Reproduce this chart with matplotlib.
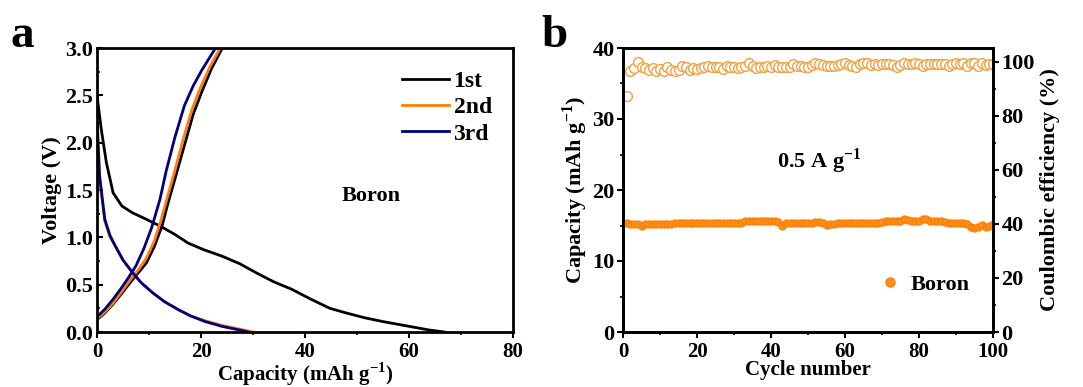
import numpy as np
import matplotlib.pyplot as plt
from matplotlib.ticker import MultipleLocator

plt.rcParams['font.family'] = ['Liberation Serif', 'DejaVu Serif']
plt.rcParams['font.weight'] = 'bold'
plt.rcParams['axes.labelweight'] = 'bold'
plt.rcParams['mathtext.fontset'] = 'custom'
plt.rcParams['mathtext.rm'] = 'Liberation Serif:bold'

# panel a: charge / discharge profiles
cap_1st_dis = [0, 0.8, 1.8, 3.1, 4.8, 6.8, 9.5, 12.1, 15, 17.5, 20.5, 24.1, 27.5, 30.8, 34, 37.5, 41, 44.8, 48, 51.5, 55, 60, 64, 66.8]
v_1st_dis = [2.5, 2.15, 1.79, 1.47, 1.33, 1.26, 1.19, 1.12, 1.03, 0.94, 0.87, 0.80, 0.72, 0.62, 0.53, 0.45, 0.35, 0.25, 0.20, 0.15, 0.11, 0.06, 0.02, 0.0]
cap_1st_chg = [0, 1.5, 3, 4.8, 6.5, 8, 9.5, 11, 12.5, 13.5, 15, 16.8, 18.5, 20.1, 22, 24.1]
v_1st_chg = [0.13, 0.2, 0.29, 0.41, 0.53, 0.63, 0.73, 0.9, 1.12, 1.33, 1.62, 1.97, 2.3, 2.53, 2.78, 3.0]

cap_2nd_dis = [0, 0.5, 1.5, 2.5, 3.5, 5, 6.8, 8.5, 10.8, 13, 15.5, 18, 20.8, 24, 27.5, 30.1]
v_2nd_dis = [2.05, 1.6, 1.17, 1.0, 0.91, 0.76, 0.63, 0.52, 0.41, 0.32, 0.24, 0.17, 0.12, 0.07, 0.03, 0.0]
cap_2nd_chg = [0, 1.5, 3, 4.8, 6.5, 8, 9.5, 11, 12.3, 13.3, 14.8, 16.5, 18.2, 19.8, 21.7, 23.7]
v_2nd_chg = [0.14, 0.21, 0.3, 0.43, 0.56, 0.66, 0.78, 0.96, 1.18, 1.38, 1.67, 2.02, 2.34, 2.57, 2.8, 3.0]

cap_3rd_dis = [0, 0.5, 1.5, 2.5, 3.5, 5, 6.8, 8.5, 10.8, 13, 15.5, 18, 20.8, 24, 27.5, 29.1]
v_3rd_dis = [2.28, 1.65, 1.19, 1.02, 0.91, 0.76, 0.63, 0.52, 0.41, 0.32, 0.24, 0.17, 0.11, 0.06, 0.02, 0.0]
cap_3rd_chg = [0, 1.5, 3, 4.5, 6, 7.5, 9, 10.5, 12.1, 13.3, 15, 16.8, 18.5, 20.2, 22.8]
v_3rd_chg = [0.16, 0.24, 0.34, 0.45, 0.57, 0.7, 0.88, 1.1, 1.4, 1.7, 2.06, 2.39, 2.6, 2.77, 3.0]

# panel b: cycling
cycles = np.arange(1, 101)
capacity = [15.3, 15.2, 15.2, 15.2, 15.0, 15.2, 15.2, 15.2, 15.2, 15.2,
            15.2, 15.2, 15.2, 15.3, 15.3, 15.3, 15.3, 15.4, 15.3, 15.3,
            15.3, 15.3, 15.3, 15.3, 15.4, 15.4, 15.4, 15.4, 15.4, 15.4,
            15.4, 15.4, 15.6, 15.6, 15.6, 15.6, 15.6, 15.6, 15.7, 15.7,
            15.6, 15.5, 14.9, 15.3, 15.3, 15.3, 15.3, 15.3, 15.3, 15.4,
            15.4, 15.5, 15.5, 15.3, 15.1, 15.2, 15.2, 15.3, 15.3, 15.3,
            15.3, 15.3, 15.3, 15.4, 15.4, 15.4, 15.4, 15.4, 15.4, 15.5,
            15.6, 15.6, 15.6, 15.6, 15.7, 15.9, 15.8, 15.7, 15.7, 15.7,
            15.9, 15.9, 15.7, 15.6, 15.6, 15.6, 15.5, 15.3, 15.3, 15.4,
            15.4, 15.3, 15.2, 14.8, 14.7, 14.8, 15.1, 14.8, 15.0, 15.2]
efficiency = [87.2, 96.5, 97.6, 99.9, 98.0, 97.5, 97.0, 97.6, 96.5, 97.4,
              96.5, 97.9, 97.0, 96.6, 97.0, 98.5, 98.0, 96.8, 97.5, 97.4,
              97.5, 98.0, 98.2, 98.0, 98.0, 97.9, 97.3, 98.3, 97.8, 97.8,
              97.6, 97.9, 98.5, 99.5, 98.2, 97.6, 97.8, 98.0, 98.2, 98.0,
              98.6, 98.0, 97.8, 98.0, 98.0, 98.9, 98.2, 98.3, 97.8, 98.0,
              98.8, 99.3, 99.0, 98.7, 98.2, 98.4, 98.2, 98.8, 99.2, 99.4,
              98.6, 98.2, 97.9, 99.0, 99.3, 99.4, 98.8, 98.9, 98.8, 99.2,
              98.9, 99.2, 98.7, 98.0, 98.8, 99.3, 99.2, 99.0, 99.3, 99.1,
              98.2, 99.2, 99.1, 99.2, 99.2, 99.1, 99.2, 98.2, 99.0, 99.3,
              99.0, 99.3, 98.5, 99.6, 99.4, 98.2, 99.3, 98.7, 99.2, 99.0]

black = '#000000'
orange = '#FF7F00'
navy = '#00007F'

fig = plt.figure(figsize=(10.83, 3.87), dpi=100)

# ---------- panel a ----------
ax1 = fig.add_axes([97 / 1083, 1 - 332 / 387, 416 / 1083, 284 / 387])
ax1.plot(cap_1st_dis, v_1st_dis, color=black, lw=2)
ax1.plot(cap_1st_chg, v_1st_chg, color=black, lw=2, label='1st')
ax1.plot(cap_2nd_dis, v_2nd_dis, color=orange, lw=2)
ax1.plot(cap_2nd_chg, v_2nd_chg, color=orange, lw=2, label='2nd')
ax1.plot(cap_3rd_dis, v_3rd_dis, color=navy, lw=2)
ax1.plot(cap_3rd_chg, v_3rd_chg, color=navy, lw=2, label='3rd')
ax1.set_xlim(0, 80)
ax1.set_ylim(0, 3.0)
ax1.xaxis.set_major_locator(MultipleLocator(20))
ax1.xaxis.set_minor_locator(MultipleLocator(10))
ax1.yaxis.set_major_locator(MultipleLocator(0.5))
ax1.yaxis.set_minor_locator(MultipleLocator(0.25))
ax1.yaxis.set_major_formatter(plt.FormatStrFormatter('%.1f'))
ax1.tick_params(axis='y', which='both', direction='in')
ax1.tick_params(axis='x', which='both', direction='out')
ax1.tick_params(which='major', length=4, width=1.5, labelsize=16)
ax1.tick_params(axis='x', pad=3, labelsize=15)
ax1.tick_params(axis='y', pad=3)
ax1.tick_params(which='minor', length=2, width=1.2)
ax1.set_xlabel('Capacity (mAh g$^{-1}$)', fontsize=15, labelpad=-1)
ax1.set_ylabel('Voltage (V)', fontsize=16, labelpad=2)
for s in ax1.spines.values():
    s.set_linewidth(2)
ax1.legend(loc='upper right', bbox_to_anchor=(1.0, 0.995), frameon=False, fontsize=17,
           handlelength=2.0, handletextpad=0.2, labelspacing=0.2)
ax1.text(0.66, 0.48, 'Boron', transform=ax1.transAxes, fontsize=16, ha='center', va='center')
fig.text(10 / 1083, 1 - 36 / 387, 'a', fontsize=34, fontweight='bold', va='center')

# ---------- panel b ----------
ax2 = fig.add_axes([623 / 1083, 1 - 332 / 387, 370 / 1083, 284 / 387])
ax2.plot(cycles, capacity, 'o', ms=5, mfc='#FF9020', mec=orange, mew=1, label='Boron')
ax2.set_xlim(0, 100)
ax2.set_ylim(0, 40)
ax2.xaxis.set_major_locator(MultipleLocator(20))
ax2.xaxis.set_minor_locator(MultipleLocator(10))
ax2.yaxis.set_major_locator(MultipleLocator(10))
ax2.yaxis.set_minor_locator(MultipleLocator(5))
ax2.tick_params(which='both', direction='out')
ax2.tick_params(which='major', length=4, width=1.5, labelsize=16)
ax2.tick_params(axis='x', pad=3, labelsize=15)
ax2.tick_params(axis='y', pad=2)
ax2.tick_params(which='minor', length=2, width=1.2)
ax2.set_xlabel('Cycle number', fontsize=15, labelpad=-1)
ax2.set_ylabel('Capacity (mAh g$^{-1}$)', fontsize=16, labelpad=2)
for s in ax2.spines.values():
    s.set_linewidth(2)
ax2.legend(loc='lower right', bbox_to_anchor=(0.99, 0.06), frameon=False, fontsize=16,
           handlelength=1.0, handletextpad=0.4, markerscale=1.3)
ax2.text(0.53, 0.6, '0.5 A g$^{-1}$', transform=ax2.transAxes, fontsize=16, ha='center', va='center')

ax3 = ax2.twinx()
ax3.plot(cycles, efficiency, 'o', ms=7, mfc='white', mec='#F5A040', mew=1)
ax3.set_ylim(0, 105)
ax3.yaxis.set_major_locator(MultipleLocator(20))
ax3.yaxis.set_minor_locator(MultipleLocator(10))
ax3.tick_params(which='both', direction='out')
ax3.tick_params(which='major', length=4, width=1.5, labelsize=16, pad=2)
ax3.tick_params(which='minor', length=2, width=1.2)
ax3.set_ylabel('Coulombic efficiency (%)', fontsize=16, labelpad=4)
for s in ax3.spines.values():
    s.set_linewidth(2)
ax2.set_zorder(ax3.get_zorder() + 1)
ax2.patch.set_visible(False)
fig.text(541 / 1083, 1 - 36 / 387, 'b', fontsize=34, fontweight='bold', va='center')

fig.savefig('out.png', dpi=100)
